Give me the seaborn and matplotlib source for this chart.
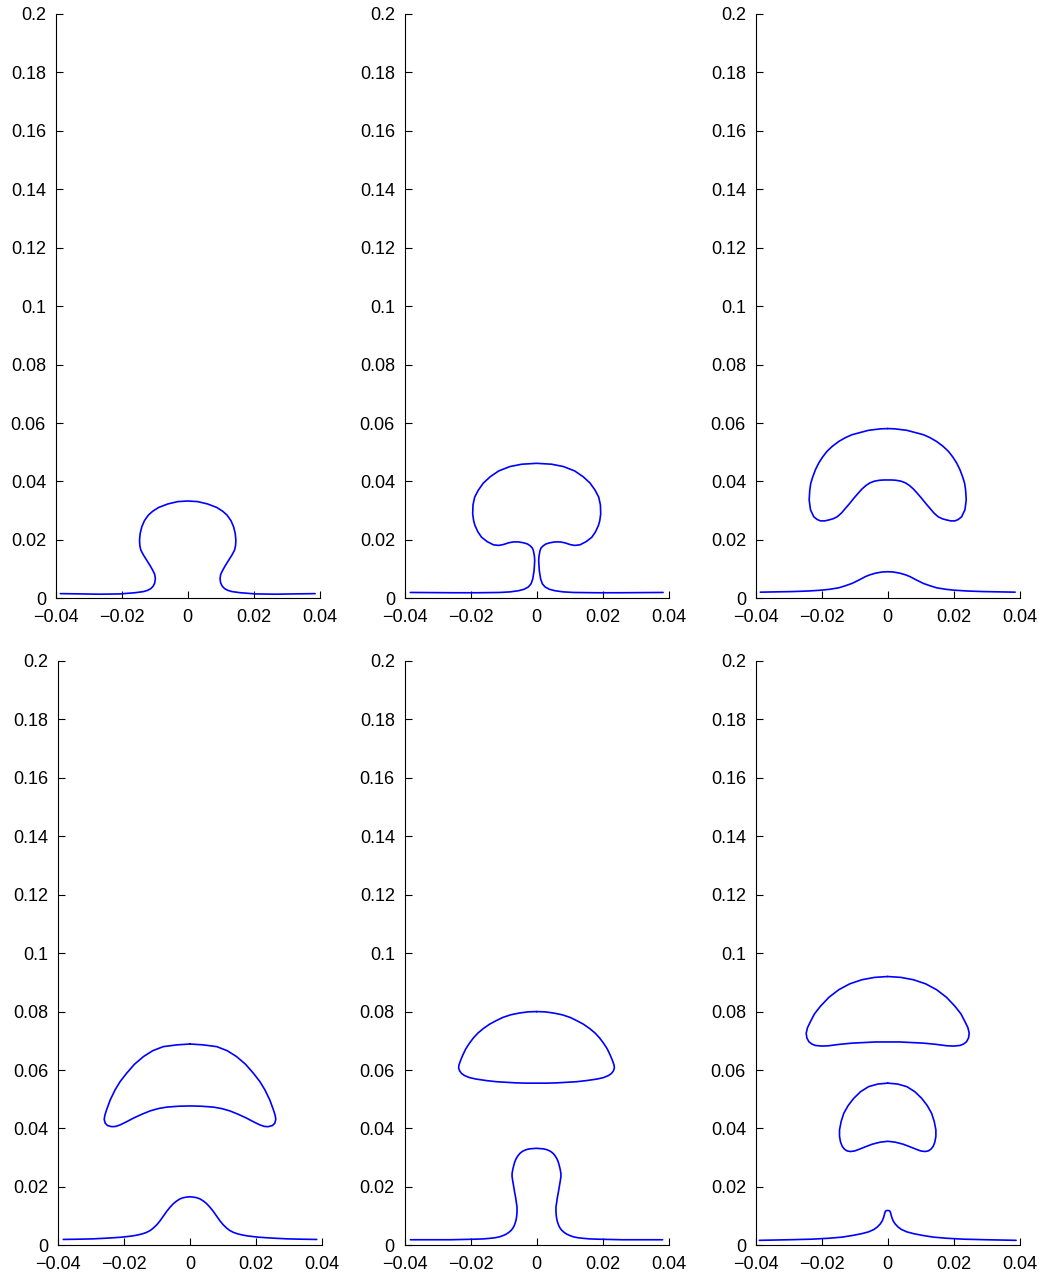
import numpy as np
import matplotlib
matplotlib.use("Agg")
import matplotlib.pyplot as plt
import seaborn as sns

# ---------------- data (right halves of symmetric interfaces, x >= 0) ----------------
# Panel 1: bubble + film (single open curve), from top down to right film end
P1_X = [0, 0.0030, 0.0060, 0.0088, 0.0106, 0.0119, 0.0131, 0.0139, 0.0144, 0.0146, 0.0145,
        0.0142, 0.0134, 0.0124, 0.0114, 0.0106, 0.0100, 0.0098, 0.0100, 0.0105, 0.0112,
        0.0122, 0.0134, 0.0160, 0.0205, 0.0265, 0.0320, 0.0386]
P1_Y = [0.0333, 0.0331, 0.0323, 0.0311, 0.0298, 0.0285, 0.0266, 0.0245, 0.0222, 0.0199, 0.0180,
        0.0165, 0.0148, 0.0130, 0.0112, 0.0096, 0.0082, 0.0067, 0.0052, 0.0041, 0.0033,
        0.0027, 0.0023, 0.0019, 0.0015, 0.0014, 0.0015, 0.0016]

# Panel 2: mushroom bubble with thin stem (single open curve)
P2_X = [0, 0.0045, 0.0081, 0.0115, 0.0141, 0.0162, 0.0177, 0.0188, 0.0193, 0.0194, 0.0191,
        0.0187, 0.0178, 0.0167, 0.0150, 0.0131, 0.0115, 0.0101, 0.0085, 0.0071, 0.0055,
        0.0040, 0.0028, 0.0020, 0.0013, 0.0010, 0.0007, 0.0006, 0.0007, 0.0008, 0.0012,
        0.0017, 0.0025, 0.0038, 0.0055, 0.0080, 0.0111, 0.0180, 0.0252, 0.0383]
P2_Y = [0.0462, 0.0459, 0.0451, 0.0436, 0.0416, 0.0394, 0.0370, 0.0346, 0.0320, 0.0289, 0.0265,
        0.0249, 0.0227, 0.0209, 0.0194, 0.0183, 0.0181, 0.0184, 0.0190, 0.0193, 0.0193,
        0.0190, 0.0186, 0.0180, 0.0172, 0.0163, 0.0145, 0.0129, 0.0110, 0.0094, 0.0066,
        0.0050, 0.0039, 0.0031, 0.0026, 0.0022, 0.0020, 0.0019, 0.0019, 0.0020]

# Panel 3: detached droplet (closed) + film hump
P3D_X = [0, 0.0022, 0.0058, 0.0108, 0.0128, 0.0148, 0.0167, 0.0184, 0.0197, 0.0209, 0.0219,
         0.0227, 0.0233, 0.0236, 0.0238, 0.0234, 0.0224, 0.0214, 0.0204, 0.0191, 0.0179,
         0.0166, 0.0153, 0.0140, 0.0128, 0.0115, 0.0103, 0.0090, 0.0078, 0.0066, 0.0054,
         0.0040, 0.0025, 0.0012, 0]
P3D_Y = [0.0581, 0.0580, 0.0575, 0.0560, 0.0550, 0.0537, 0.0521, 0.0503, 0.0484, 0.0463, 0.0440,
         0.0416, 0.0394, 0.0372, 0.0337, 0.0303, 0.0279, 0.0270, 0.0265, 0.0265, 0.0268,
         0.0272, 0.0279, 0.0292, 0.0308, 0.0325, 0.0342, 0.0359, 0.0374, 0.0386, 0.0395,
         0.0401, 0.0404, 0.0405, 0.0405]
P3F_X = [0, 0.0017, 0.0037, 0.0055, 0.0068, 0.0088, 0.0108, 0.0128, 0.0148, 0.0175, 0.0199,
         0.0240, 0.0290, 0.0386]
P3F_Y = [0.0091, 0.0090, 0.0086, 0.0080, 0.0074, 0.0062, 0.0051, 0.0043, 0.0036, 0.0031, 0.0028,
         0.0025, 0.0023, 0.0021]

# Panel 4: crescent droplet + film hump
P4D_X = [0, 0.0040, 0.0081, 0.0113, 0.0141, 0.0168, 0.0192, 0.0212, 0.0227, 0.0242, 0.0253,
         0.0258, 0.0260, 0.0257, 0.0250, 0.0237, 0.0225, 0.0212, 0.0192, 0.0172, 0.0147,
         0.0121, 0.0096, 0.0071, 0.0035, 0]
P4D_Y = [0.0689, 0.0686, 0.0680, 0.0666, 0.0646, 0.0620, 0.0589, 0.0560, 0.0532, 0.0497, 0.0463,
         0.0445, 0.0431, 0.0418, 0.0410, 0.0406, 0.0407, 0.0412, 0.0423, 0.0435, 0.0448,
         0.0460, 0.0468, 0.0473, 0.0476, 0.0477]
P4F_X = [0, 0.0010, 0.0020, 0.0030, 0.0040, 0.0050, 0.0060, 0.0070, 0.0080, 0.0090, 0.0100,
         0.0110, 0.0120, 0.0132, 0.0145, 0.0160, 0.0175, 0.0190, 0.0205, 0.0230, 0.0260,
         0.0295, 0.0333, 0.0384]
P4F_Y = [0.0166, 0.0165, 0.0163, 0.0159, 0.0152, 0.0143, 0.0131, 0.0117, 0.0101, 0.0085, 0.0071,
         0.0060, 0.0051, 0.0044, 0.0039, 0.0035, 0.0032, 0.0030, 0.0028, 0.0026, 0.0024,
         0.0022, 0.0021, 0.0020]

# Panel 5: cap droplet + new bubble
P5D_X = [0, 0.0026, 0.0052, 0.0078, 0.0102, 0.0122, 0.0142, 0.0161, 0.0178, 0.0191, 0.0203,
         0.0214, 0.0223, 0.0230, 0.0235, 0.0236, 0.0233, 0.0227, 0.0218, 0.0203, 0.0183,
         0.0153, 0.0122, 0.0092, 0.0062, 0.0031, 0]
P5D_Y = [0.0800, 0.0799, 0.0795, 0.0789, 0.0780, 0.0769, 0.0757, 0.0742, 0.0726, 0.0710, 0.0692,
         0.0673, 0.0652, 0.0633, 0.0617, 0.0607, 0.0597, 0.0588, 0.0581, 0.0574, 0.0569,
         0.0564, 0.0560, 0.0558, 0.0556, 0.0555, 0.0555]
P5B_X = [0, 0.0022, 0.0032, 0.0042, 0.0050, 0.0056, 0.0062, 0.0066, 0.0069, 0.0072, 0.0073,
         0.0074, 0.0074, 0.0072, 0.0069, 0.0066, 0.0063, 0.0061, 0.0059, 0.0059, 0.0060,
         0.0062, 0.0065, 0.0068, 0.0072, 0.0077, 0.0084, 0.0092, 0.0102, 0.0112, 0.0125,
         0.0140, 0.0160, 0.0183, 0.0260, 0.0382]
P5B_Y = [0.0332, 0.0330, 0.0327, 0.0322, 0.0315, 0.0307, 0.0296, 0.0285, 0.0273, 0.0259, 0.0252,
         0.0246, 0.0235, 0.0220, 0.0200, 0.0180, 0.0162, 0.0146, 0.0131, 0.0115, 0.0100,
         0.0086, 0.0075, 0.0066, 0.0058, 0.0051, 0.0044, 0.0038, 0.0033, 0.0029, 0.0026,
         0.0024, 0.0022, 0.0021, 0.0019, 0.0019]

# Panel 6: two droplets + film spike
P6A_X = [0, 0.0040, 0.0078, 0.0115, 0.0148, 0.0178, 0.0204, 0.0222, 0.0234, 0.0243, 0.0247,
         0.0245, 0.0239, 0.0230, 0.0219, 0.0200, 0.0179, 0.0145, 0.0108, 0.0072, 0.0037, 0]
P6A_Y = [0.0920, 0.0917, 0.0909, 0.0895, 0.0875, 0.0849, 0.0818, 0.0792, 0.0766, 0.0745, 0.0726,
         0.0710, 0.0697, 0.0689, 0.0684, 0.0682, 0.0683, 0.0688, 0.0692, 0.0694, 0.0696, 0.0696]
P6B_X = [0, 0.0030, 0.0058, 0.0082, 0.0103, 0.0120, 0.0133, 0.0141, 0.0146, 0.0146, 0.0143,
         0.0138, 0.0131, 0.0123, 0.0113, 0.0100, 0.0088, 0.0068, 0.0047, 0.0023, 0]
P6B_Y = [0.0555, 0.0552, 0.0543, 0.0526, 0.0503, 0.0478, 0.0452, 0.0424, 0.0395, 0.0373, 0.0354,
         0.0339, 0.0329, 0.0323, 0.0321, 0.0323, 0.0328, 0.0337, 0.0346, 0.0353, 0.0356]
P6F_X = [0, 0.0004, 0.0007, 0.0009, 0.0012, 0.0016, 0.0022, 0.0031, 0.0042, 0.0058, 0.0078,
         0.0105, 0.0138, 0.0180, 0.0229, 0.0300, 0.0389]
P6F_Y = [0.0119, 0.0119, 0.0116, 0.0110, 0.0097, 0.0085, 0.0074, 0.0063, 0.0054, 0.0046, 0.0040,
         0.0034, 0.0028, 0.0024, 0.0021, 0.0019, 0.0017]

XTICKS = [-0.04, -0.02, 0, 0.02, 0.04]
XTICKLABELS = ["\u22120.04", "\u22120.02", "0", "0.02", "0.04"]
YTICKS = [0, 0.02, 0.04, 0.06, 0.08, 0.1, 0.12, 0.14, 0.16, 0.18, 0.2]
YTICKLABELS = ["0", "0.02", "0.04", "0.06", "0.08", "0.1", "0.12", "0.14", "0.16", "0.18", "0.2"]

PANELS = [
    [(P1_X, P1_Y, False)],
    [(P2_X, P2_Y, False)],
    [(P3D_X, P3D_Y, True), (P3F_X, P3F_Y, False)],
    [(P4D_X, P4D_Y, True), (P4F_X, P4F_Y, False)],
    [(P5D_X, P5D_Y, True), (P5B_X, P5B_Y, False)],
    [(P6A_X, P6A_Y, True), (P6B_X, P6B_Y, True), (P6F_X, P6F_Y, False)],
]


def full_curve(xr, yr, closed):
    xr = np.asarray(xr, float)
    yr = np.asarray(yr, float)
    if closed:
        x = np.concatenate([xr, -xr[::-1][1:]])
        y = np.concatenate([yr, yr[::-1][1:]])
    else:
        x = np.concatenate([-xr[::-1], xr[1:]])
        y = np.concatenate([yr[::-1], yr[1:]])
    return x, y


sns.set_style("ticks")
plt.rcParams["font.family"] = ["Liberation Sans", "DejaVu Sans"]
plt.rcParams["font.size"] = 13
plt.rcParams["text.color"] = "black"
plt.rcParams["xtick.color"] = "black"
plt.rcParams["ytick.color"] = "black"
plt.rcParams["axes.edgecolor"] = "black"
plt.rcParams["axes.linewidth"] = 0.8

W, H = 1049, 1274
fig = plt.figure(figsize=(W / 100, H / 100), dpi=100)

# axes rectangles in pixels: (left, right, top, bottom)
RECTS = [
    (55.7, 319.7, 14.0, 598.3),
    (404.7, 668.7, 14.0, 598.3),
    (755.7, 1019.7, 14.0, 598.3),
    (58.0, 322.0, 661.0, 1245.3),
    (404.5, 668.5, 661.0, 1245.3),
    (755.7, 1019.7, 661.0, 1245.3),
]

for (l, r, t, b), curves in zip(RECTS, PANELS):
    ax = fig.add_axes([l / W, 1 - b / H, (r - l) / W, (b - t) / H])
    for xr, yr, closed in curves:
        x, y = full_curve(xr, yr, closed)
        sns.lineplot(x=x, y=y, sort=False, estimator=None, color="#0000ff",
                     linewidth=1.2, ax=ax)
    ax.set_xlim(-0.04, 0.04)
    ax.set_ylim(0, 0.2)
    ax.set_xticks(XTICKS, XTICKLABELS)
    ax.set_yticks(YTICKS, YTICKLABELS)
    ax.tick_params(direction="in", length=5, width=0.8, labelsize=13,
                   color="black", labelcolor="black", bottom=True, left=True)
    ax.tick_params(axis="x", pad=8)
    ax.tick_params(axis="y", pad=7)
    for s in ("top", "right"):
        ax.spines[s].set_visible(False)
    ax.set_xlabel("")
    ax.set_ylabel("")
    ax.set_facecolor("white")

fig.savefig("out.png", dpi=100, facecolor="white")
